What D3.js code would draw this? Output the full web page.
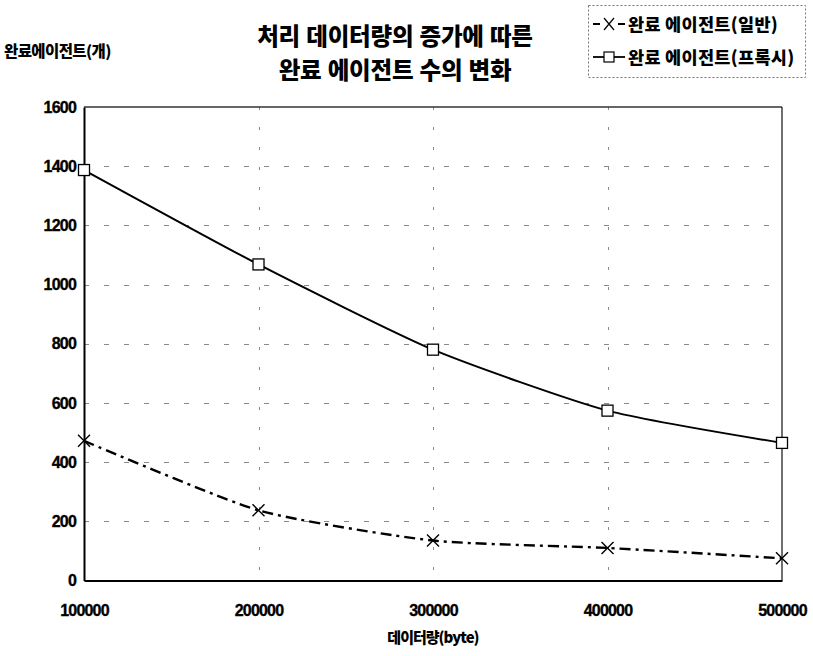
<!DOCTYPE html>
<html>
<head>
<meta charset="utf-8">
<script src="https://cdn.jsdelivr.net/npm/d3@7"></script>
<style>
  html, body { margin: 0; padding: 0; background: #fff; }
  svg { display: block; }
  .kr { font-family: "Noto Sans CJK KR", "Noto Sans", sans-serif; font-weight: 900; }
  .num { font-family: "Liberation Sans", Arial, sans-serif; font-weight: 700; }
</style>
</head>
<body>
<svg id="chart" width="813" height="656"></svg>
<script>
// Data volume (bytes) on the x axis
const dataSizes = [100000, 200000, 300000, 400000, 500000];
// Completed agents, general mode
const agentsGeneral = [472, 237, 135, 110, 75];
// Completed agents, proxy mode
const agentsProxy = [1387, 1068, 780, 574, 465];
// Axis ticks
const yTicks = [0, 200, 400, 600, 800, 1000, 1200, 1400, 1600];
const xTicks = [100000, 200000, 300000, 400000, 500000];

const titleLines = ["처리 데이터량의 증가에 따른", "완료 에이전트 수의 변화"];
const yTitle = "완료에이전트(개)";
const xTitle = "데이터량(byte)";
const seriesNames = ["완료 에이전트(일반)", "완료 에이전트(프록시)"];

const svg = d3.select("#chart");

const plot = { left: 84, right: 782, top: 107, bottom: 580.5 };

const x = d3.scaleLinear().domain([100000, 500000]).range([plot.left, plot.right]);
const y = d3.scaleLinear().domain([0, 1600]).range([plot.bottom, plot.top]);

// Grid lines
const grid = svg.append("g").attr("stroke", "#8a8a8a").attr("stroke-width", 1);
grid.selectAll("line.h").data(yTicks.filter(d => d > 0 && d < 1600)).join("line")
  .attr("class", "h")
  .attr("x1", plot.left).attr("x2", plot.right)
  .attr("y1", d => Math.round(y(d)) + 0.5).attr("y2", d => Math.round(y(d)) + 0.5)
  .attr("stroke-dasharray", "5 15");
grid.selectAll("line.v").data(xTicks.filter(d => d > 100000 && d < 500000)).join("line")
  .attr("class", "v")
  .attr("x1", d => Math.round(x(d)) + 0.5).attr("x2", d => Math.round(x(d)) + 0.5)
  .attr("y1", plot.top).attr("y2", plot.bottom)
  .attr("stroke-dasharray", "3 17");

// Plot frame: top and right thin, left and bottom heavier
svg.append("line").attr("x1", plot.left).attr("x2", plot.right)
  .attr("y1", plot.top).attr("y2", plot.top).attr("stroke", "#333").attr("stroke-width", 1.3);
svg.append("line").attr("x1", plot.right).attr("x2", plot.right)
  .attr("y1", plot.top).attr("y2", plot.bottom).attr("stroke", "#222").attr("stroke-width", 1.3);

// Axes
const yAxis = d3.axisLeft(y).tickValues(yTicks).tickSize(0).tickPadding(8).tickFormat(d3.format("d"));
const xAxis = d3.axisBottom(x).tickValues(xTicks).tickSize(0).tickPadding(24).tickFormat(d3.format("d"));

const gy = svg.append("g").attr("transform", `translate(${plot.left},0)`).call(yAxis);
const gx = svg.append("g").attr("transform", `translate(0,${plot.bottom})`).call(xAxis);
[gx, gy].forEach(g => {
  g.select(".domain").attr("stroke", "#000").attr("stroke-width", 2);
  g.selectAll("text").attr("class", "num").attr("font-size", 16)
    .attr("letter-spacing", "-0.8").attr("fill", "#000")
    .attr("stroke", "#000").attr("stroke-width", 0.35);
});

// Series lines
const line = d3.line()
  .x((d, i) => x(dataSizes[i]))
  .y(d => y(d))
  .curve(d3.curveCardinal.tension(0.4));

svg.append("path").datum(agentsProxy)
  .attr("d", line).attr("fill", "none").attr("stroke", "#000").attr("stroke-width", 2);
svg.append("path").datum(agentsGeneral)
  .attr("d", line).attr("fill", "none").attr("stroke", "#000").attr("stroke-width", 2.4)
  .attr("stroke-dasharray", "11 5 3 5");

// Markers
const sq = 11;
svg.append("g").selectAll("rect").data(agentsProxy).join("rect")
  .attr("x", (d, i) => x(dataSizes[i]) - sq / 2)
  .attr("y", d => y(d) - sq / 2)
  .attr("width", sq).attr("height", sq)
  .attr("fill", "#fff").attr("stroke", "#000").attr("stroke-width", 1.3);

const xm = 6;
const crosses = svg.append("g").attr("stroke", "#000").attr("stroke-width", 1.4);
agentsGeneral.forEach((d, i) => {
  const cx = x(dataSizes[i]), cy = y(d);
  crosses.append("path")
    .attr("d", `M${cx - xm},${cy - xm}L${cx + xm},${cy + xm}M${cx - xm},${cy + xm}L${cx + xm},${cy - xm}`);
});

// Title
const title = svg.append("text").attr("class", "kr").attr("font-size", 23.5)
  .attr("text-anchor", "middle").attr("fill", "#000").attr("word-spacing", "1")
  .attr("letter-spacing", "-0.2");
titleLines.forEach((t, i) => {
  title.append("tspan").attr("x", 395).attr("y", 45 + i * 34).text(t);
});

// Axis titles
svg.append("text").attr("class", "kr").attr("x", 4).attr("y", 57)
  .attr("font-size", 15.5).attr("letter-spacing", "-0.6").text(yTitle);
svg.append("text").attr("class", "kr").attr("x", (plot.left + plot.right) / 2).attr("y", 643)
  .attr("text-anchor", "middle").attr("font-size", 15).attr("letter-spacing", "-1").text(xTitle);

// Legend
const lg = svg.append("g");
lg.append("rect").attr("x", 588.5).attr("y", 5.5).attr("width", 217).attr("height", 72)
  .attr("fill", "none").attr("stroke", "#777").attr("stroke-width", 1).attr("stroke-dasharray", "2 2");
const ly = [24, 57];
// general entry
lg.append("line").attr("x1", 593).attr("x2", 625).attr("y1", ly[0]).attr("y2", ly[0])
  .attr("stroke", "#000").attr("stroke-width", 1.8).attr("stroke-dasharray", "7 18 7");
lg.append("path").attr("d", `M${609 - 5},${ly[0] - 6}L${609 + 5},${ly[0] + 6}M${609 - 5},${ly[0] + 6}L${609 + 5},${ly[0] - 6}`)
  .attr("stroke", "#000").attr("stroke-width", 1.2);
// proxy entry
lg.append("line").attr("x1", 593).attr("x2", 625).attr("y1", ly[1]).attr("y2", ly[1])
  .attr("stroke", "#000").attr("stroke-width", 1.8);
lg.append("rect").attr("x", 609 - 5).attr("y", ly[1] - 5).attr("width", 10).attr("height", 10)
  .attr("fill", "#fff").attr("stroke", "#000").attr("stroke-width", 1.2);
seriesNames.forEach((s, i) => {
  lg.append("text").attr("class", "kr").attr("x", 628).attr("y", ly[i] + 6.5)
    .attr("font-size", 17.5).attr("letter-spacing", "0.3").text(s);
});
</script>
</body>
</html>
